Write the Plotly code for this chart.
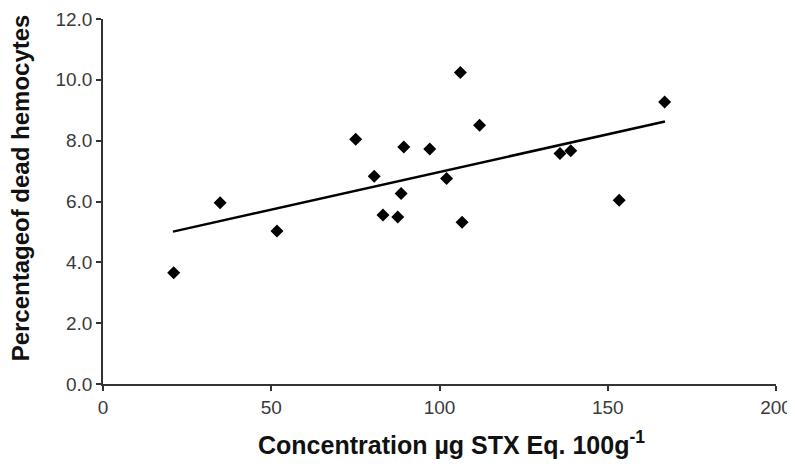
import plotly.graph_objects as go

conc = [21.0, 34.8, 51.7, 75.1, 80.6, 83.2, 87.6, 88.6, 89.4, 97.1, 102.1,
        106.2, 106.7, 111.9, 135.8, 139.0, 153.4, 166.9]
dead = [3.66, 5.96, 5.03, 8.05, 6.83, 5.56, 5.49, 6.26, 7.79, 7.73, 6.76,
        10.24, 5.32, 8.51, 7.58, 7.67, 6.04, 9.27]
trend_x = [20.8, 167.0]
trend_y = [5.01, 8.63]

x_ticks = [0, 50, 100, 150, 200]
y_ticks = [0, 2, 4, 6, 8, 10, 12]
y_labels = ["0.0", "2.0", "4.0", "6.0", "8.0", "10.0", "12.0"]

x_title = "<b>Concentration µg STX Eq. 100g<sup>-1</sup></b>"
y_title = "<b>Percentageof dead hemocytes</b>"

fig = go.Figure()
fig.add_trace(go.Scatter(x=trend_x, y=trend_y, mode="lines",
                         line=dict(color="black", width=2.5), showlegend=False))
fig.add_trace(go.Scatter(x=conc, y=dead, mode="markers",
                         marker=dict(symbol="diamond", size=10, color="black"),
                         showlegend=False))

axis_common = dict(showgrid=False, zeroline=False, automargin=False,
                   showline=True, linecolor="#333333", linewidth=1.5,
                   ticks="outside", ticklen=5, tickcolor="#333333", tickwidth=1.5,
                   tickfont=dict(size=19, color="#3a3a3a"))

fig.update_layout(
    width=787, height=459,
    margin=dict(l=95, r=19, t=11, b=83),
    plot_bgcolor="white", paper_bgcolor="white",
    font=dict(family="Liberation Sans, Arial, sans-serif", color="#333333", size=19),
    xaxis=dict(range=[0, 200], tickvals=x_ticks, **axis_common),
    yaxis=dict(range=[0, 12], tickvals=y_ticks, ticktext=y_labels, **axis_common),
    annotations=[
        dict(text=x_title, xref="paper", yref="paper", x=0.518, y=0,
             xanchor="center", yanchor="middle", yshift=-59, showarrow=False,
             font=dict(size=25, color="#111111")),
        dict(text=y_title, xref="paper", yref="paper", x=0, y=0.536,
             xanchor="center", yanchor="middle", xshift=-83, textangle=-90,
             showarrow=False, font=dict(size=24, color="#111111")),
    ],
)

fig.write_html("out.html")
